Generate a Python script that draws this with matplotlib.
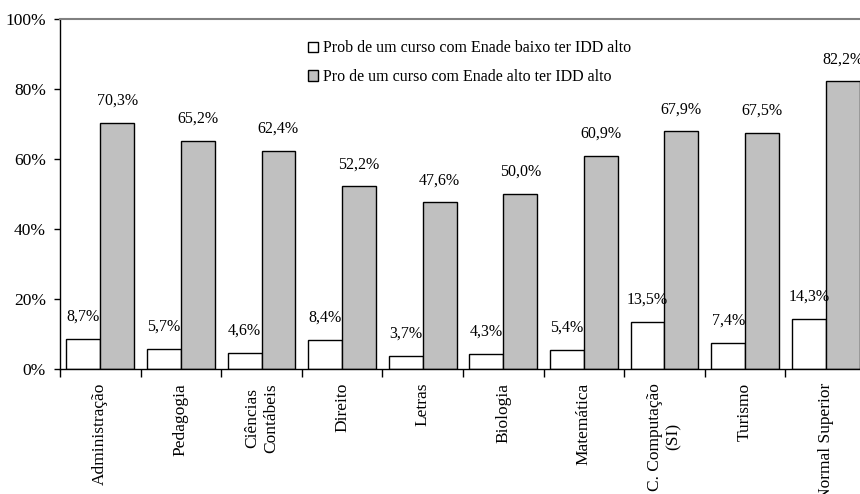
import numpy as np
import matplotlib.pyplot as plt
from matplotlib.ticker import FuncFormatter

plt.rcParams['font.family'] = ['Liberation Serif', 'DejaVu Serif']

cursos = ['Administração', 'Pedagogia', 'Ciências\nContábeis', 'Direito', 'Letras',
          'Biologia', 'Matemática', 'C. Computação\n(SI)', 'Turismo', 'Normal Superior']
enade_baixo = [8.7, 5.7, 4.6, 8.4, 3.7, 4.3, 5.4, 13.5, 7.4, 14.3]
enade_alto = [70.3, 65.2, 62.4, 52.2, 47.6, 50.0, 60.9, 67.9, 67.5, 82.2]
serie_baixo = 'Prob de um curso com Enade baixo ter IDD alto'
serie_alto = 'Pro de um curso com Enade alto ter IDD alto'

fig = plt.figure(figsize=(8.6, 4.94), dpi=100)
# axes run a bit past the right edge of the figure
ax = fig.add_axes([60 / 860, 125 / 494, 806 / 860, 350 / 494])

x = np.arange(len(cursos))
w = 0.42
b1 = ax.bar(x - w / 2, enade_baixo, w, color='white', edgecolor='black', linewidth=1, label=serie_baixo)
b2 = ax.bar(x + w / 2, enade_alto, w, color='#C0C0C0', edgecolor='black', linewidth=1, label=serie_alto)

def fmt(v):
    return f'{v:.1f}%'.replace('.', ',')

for bars, vals in ((b1, enade_baixo), (b2, enade_alto)):
    for r, v in zip(bars, vals):
        ax.text(r.get_x() + r.get_width() / 2, v + 4.0, fmt(v), ha='center', va='bottom',
                fontsize=11.5)

ax.set_xlim(-0.5, len(cursos) - 0.5)
ax.set_ylim(0, 100)
ax.set_yticks(range(0, 101, 20))
ax.yaxis.set_major_formatter(FuncFormatter(lambda v, p: f'{v:.0f}%'))
ax.tick_params(axis='y', labelsize=12.5, length=4, width=1, direction='out', pad=6)

# category separators as ticks, labels as minor ticks at the centres
ax.set_xticks(np.arange(len(cursos) + 1) - 0.5)
ax.set_xticklabels([])
ax.tick_params(axis='x', which='major', length=6, width=1, direction='out')
ax.set_xticks(x, minor=True)
ax.set_xticklabels(cursos, minor=True, rotation=90, fontsize=12.5, linespacing=1.25)
ax.tick_params(axis='x', which='minor', length=0, pad=10)

ax.spines['top'].set_color('#808080')
ax.spines['top'].set_linewidth(1.5)
ax.spines['right'].set_visible(False)
for s in ('left', 'bottom'):
    ax.spines[s].set_linewidth(1)

fig.legend(handles=[b1, b2], loc='upper left', bbox_to_anchor=(294 / 860, 1 - 26 / 494),
           frameon=False, fontsize=11.5, handlelength=0.6, handleheight=0.6,
           handletextpad=0.3, labelspacing=0.8)

fig.savefig('out.png', dpi=100)
